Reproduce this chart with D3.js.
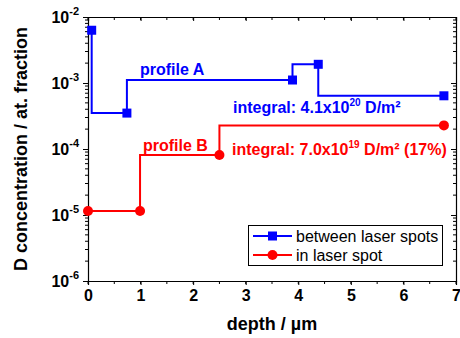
<!DOCTYPE html>
<html><head><meta charset="utf-8">
<script src="https://cdn.jsdelivr.net/npm/d3@7"></script>
<style>body{margin:0;background:#fff}svg{display:block}text{font-family:"Liberation Sans",Arial,sans-serif}</style>
</head><body><svg id="c" width="460" height="338"></svg>
<script>
const seriesNames = ["between laser spots", "in laser spot"];
const depthA = [0.07, 0.74, 3.89, 4.38, 6.77];
const concA = [6.3e-3, 3.5e-4, 1.11e-3, 1.92e-3, 6.4e-4];
const depthB = [0, 0.99, 2.50, 6.77];
const concB = [1.15e-5, 1.15e-5, 8.1e-5, 2.28e-4];
const xTicks = [0, 1, 2, 3, 4, 5, 6, 7];
const yExps = [-6, -5, -4, -3, -2];

const svg = d3.select("#c");
const L = 88, R = 456, T = 17, B = 281;
const x = d3.scaleLinear().domain([0, 7]).range([L, R]);
const y = d3.scaleLog().domain([1e-6, 1e-2]).range([B, T]);

const g = svg.append("g");
const minorX = d3.range(0, 7.01, 0.5);
const minorY = [];
yExps.slice(0, -1).forEach(e => { for (let k = 2; k <= 9; k++) minorY.push(k * Math.pow(10, e)); });

// bottom axis
const bx = d3.axisBottom(x).tickValues(xTicks).tickSize(4).tickPadding(5).tickFormat(d3.format("d"));
const gb = g.append("g").attr("transform", `translate(0,${B})`).call(bx);
gb.selectAll("text").attr("font-size", 16).attr("font-weight", "bold").attr("font-family", "Liberation Sans, Arial, sans-serif");
gb.append("g").selectAll("line").data(minorX).join("line")
  .attr("x1", d => x(d)).attr("x2", d => x(d)).attr("y1", 0).attr("y2", 3).attr("stroke", "#000");
// top axis
const gt = g.append("g").attr("transform", `translate(0,${T})`)
  .call(d3.axisTop(x).tickValues(xTicks).tickSize(-4).tickFormat(""));
gt.append("g").selectAll("line").data(minorX).join("line")
  .attr("x1", d => x(d)).attr("x2", d => x(d)).attr("y1", 0).attr("y2", 3).attr("stroke", "#000");
// left axis
const yMajor = yExps.map(e => Math.pow(10, e));
const gl = g.append("g").attr("transform", `translate(${L},0)`)
  .call(d3.axisLeft(y).tickValues(yMajor).tickSize(5).tickFormat(""));
gl.append("g").selectAll("line").data(minorY).join("line")
  .attr("y1", d => y(d)).attr("y2", d => y(d)).attr("x1", 0).attr("x2", -3).attr("stroke", "#000");
const lbl = gl.append("g").attr("fill", "#000").selectAll("text").data(yExps).join("text")
  .attr("x", -9).attr("y", e => y(Math.pow(10, e)) + 6)
  .attr("text-anchor", "end").attr("font-weight", "bold").attr("font-size", 16);
lbl.append("tspan").text("10");
lbl.append("tspan").attr("font-size", 11).attr("dy", -8).text(e => "" + e);
// right axis
const gr = g.append("g").attr("transform", `translate(${R},0)`)
  .call(d3.axisRight(y).tickValues(yMajor).tickSize(-5).tickFormat(""));
gr.append("g").selectAll("line").data(minorY).join("line")
  .attr("y1", d => y(d)).attr("y2", d => y(d)).attr("x1", 0).attr("x2", -3).attr("stroke", "#000");
g.selectAll(".domain").attr("stroke", "#000").attr("stroke-width", 1.2);
g.selectAll(".tick line").attr("stroke", "#000");

// axis titles
svg.append("text").attr("transform", `translate(27,${(T + B) / 2}) rotate(-90)`)
  .attr("text-anchor", "middle").attr("font-weight", "bold").attr("font-size", 18)
  .text("D concentration / at. fraction");
svg.append("text").attr("x", (L + R) / 2).attr("y", 330)
  .attr("text-anchor", "middle").attr("font-weight", "bold").attr("font-size", 18)
  .text("depth / µm");

// series
const blue = "#0000ff", red = "#ff0000";
const line = d3.line().x(d => x(d[0])).y(d => y(d[1])).curve(d3.curveStepBefore);
const dataA = depthA.map((d, i) => [d, concA[i]]);
const dataB = depthB.map((d, i) => [d, concB[i]]);
svg.append("path").datum(dataA).attr("d", line).attr("fill", "none").attr("stroke", blue).attr("stroke-width", 2);
svg.append("path").datum(dataB).attr("d", line).attr("fill", "none").attr("stroke", red).attr("stroke-width", 2);
svg.append("g").selectAll("rect").data(dataA).join("rect")
  .attr("x", d => x(d[0]) - 4.5).attr("y", d => y(d[1]) - 4.5).attr("width", 9).attr("height", 9).attr("fill", blue);
svg.append("g").selectAll("circle").data(dataB).join("circle")
  .attr("cx", d => x(d[0])).attr("cy", d => y(d[1])).attr("r", 5).attr("fill", red);

// annotations
function ann(tx, ty, color, parts) {
  const t = svg.append("text").attr("x", tx).attr("y", ty).attr("fill", color)
    .attr("font-weight", "bold").attr("font-size", 16);
  parts.forEach(p => {
    const s = t.append("tspan").text(p.t);
    if (p.sup) s.attr("font-size", 10).attr("dy", -7);
    if (p.down) s.attr("dy", 7);
  });
}
ann(140, 75, blue, [{t: "profile A"}]);
ann(233, 113, blue, [{t: "integral: 4.1x10"}, {t: "20", sup: true}, {t: " D/m²", down: true}]);
ann(143, 151, red, [{t: "profile B"}]);
ann(232, 155, red, [{t: "integral: 7.0x10"}, {t: "19", sup: true}, {t: " D/m² (17%)", down: true}]);

// legend
const lg = svg.append("g");
lg.append("rect").attr("x", 248.5).attr("y", 225.5).attr("width", 194).attr("height", 40)
  .attr("fill", "#fff").attr("stroke", "#000").attr("stroke-width", 1);
const items = [{c: blue, shape: "sq"}, {c: red, shape: "ci"}];
items.forEach((it, i) => {
  const yy = 236 + i * 19;
  lg.append("line").attr("x1", 253).attr("x2", 292).attr("y1", yy).attr("y2", yy).attr("stroke", it.c).attr("stroke-width", 2);
  if (it.shape === "sq") lg.append("rect").attr("x", 268).attr("y", yy - 4.5).attr("width", 9).attr("height", 9).attr("fill", it.c);
  else lg.append("circle").attr("cx", 272.5).attr("cy", yy).attr("r", 5).attr("fill", it.c);
  lg.append("text").attr("x", 296).attr("y", yy + 5.5).attr("font-size", 16).text(seriesNames[i]);
});
</script></body></html>
